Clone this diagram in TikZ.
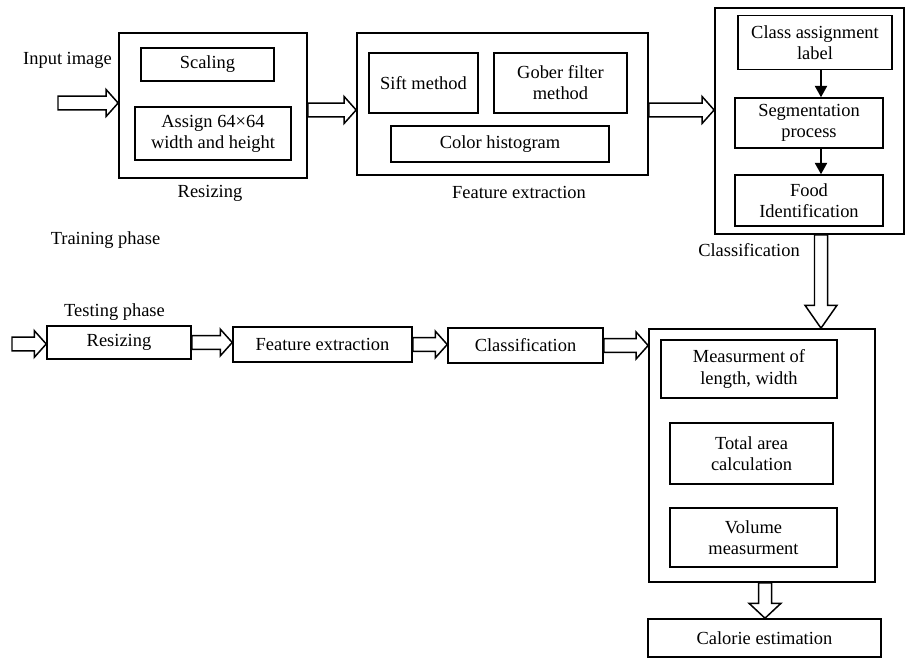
\documentclass[tikz,border=0pt]{standalone}
\usepackage{fontspec}
\setmainfont{Liberation Serif}
\usetikzlibrary{arrows.meta,calc}
\newcommand{\arrshaft}{3.9pt}
\newcommand{\arrhead}{7.6pt}
\newcommand{\arrlen}{6.8pt}
\newcommand{\fatright}[2]{%
  \draw[fat] let \p1=(#1), \p2=(#2) in
    (\x1,\y1+\arrshaft) -- (\x2-\arrlen,\y1+\arrshaft) -- (\x2-\arrlen,\y1+\arrhead)
    -- (\x2,\y1) -- (\x2-\arrlen,\y1-\arrhead) -- (\x2-\arrlen,\y1-\arrshaft)
    -- (\x1,\y1-\arrshaft) -- cycle;}
\newcommand{\fatdown}[3][8.5pt]{%
  \draw[fat] let \p1=(#2), \p2=(#3) in
    (\x1-3.7pt,\y1) -- (\x1-3.7pt,\y2+#1) -- (\x1-9.1pt,\y2+#1) -- (\x1,\y2)
    -- (\x1+9.1pt,\y2+#1) -- (\x1+3.7pt,\y2+#1) -- (\x1+3.7pt,\y1) -- cycle;}

\begin{document}
\begin{tikzpicture}[x=0.02cm, y=-0.02cm,
    every node/.style={font=\fontsize{10.5}{12}\selectfont},
    box/.style={draw, line width=0.9pt, inner sep=0pt, align=center},
    outer/.style={draw, line width=1pt, inner sep=0pt},
    fat/.style={line width=0.85pt, line join=miter},
    tri/.style={line width=0.9pt, -{Triangle[length=6.5pt,width=7pt]}}]
  \useasboundingbox (0,0) rectangle (907,658);

  % training phase
  \node (inlbl) at (67.5,60) {Input image};
  \coordinate (in1) at (58,103);
  \node[outer, minimum width=3.76cm, minimum height=2.90cm] (rs) at (213,105.5) {};
  \node[box, minimum width=2.66cm, minimum height=0.66cm] (scaling) at (207.5,64.5) {Scaling};
  \node[box, minimum width=3.12cm, minimum height=1.06cm] (assign) at (213,133.5) {Assign 64×64\\width and height};
  \node (rslbl) at (210,193) {Resizing};

  \node[outer, minimum width=5.82cm, minimum height=2.84cm] (fe) at (502.5,104) {};
  \node[box, minimum width=2.18cm, minimum height=1.20cm] (sift) at (423.5,83) {Sift method};
  \node[box, minimum width=2.66cm, minimum height=1.20cm] (gober) at (560.5,83) {Gober filter\\method};
  \node[box, minimum width=4.36cm, minimum height=0.72cm] (color) at (500,144) {Color histogram};
  \node (felbl) at (519,192) {Feature extraction};

  \node[outer, minimum width=3.78cm, minimum height=4.52cm] (cl) at (809.5,121) {};
  \node[box, minimum width=3.08cm, minimum height=1.08cm] (classassign) at (815,42.5) {Class assignment\\label};
  \node[box, minimum width=2.96cm, minimum height=1.00cm] (segment) at (809,123) {Segmentation\\process};
  \node[box, minimum width=2.96cm, minimum height=1.02cm] (food) at (809,200.5) {Food\\Identification};
  \node (cllbl) at (749,250) {Classification};

  \node (trainlbl) at (105.5,240) {Training phase};

  \fatright{in1}{rs.west}
  \fatright{[yshift=-0.09cm]rs.east}{fe.west}
  \fatright{[yshift=-0.12cm]fe.east}{cl.west}
  \draw[tri] ([xshift=0.12cm]classassign.south) coordinate (ca) -- (ca |- segment.north);
  \draw[tri] ([xshift=0.24cm]segment.south) coordinate (sg) -- (sg |- food.north);

  % testing phase
  \node (testlbl) at (114.5,312) {Testing phase};
  \coordinate (in2) at (12,344);
  \node[box, minimum width=2.88cm, minimum height=0.66cm] (tresize) at (119,342.5) {Resizing};
  \node[box, minimum width=3.58cm, minimum height=0.70cm] (tfeature) at (322.5,344.5) {Feature extraction};
  \node[box, minimum width=3.10cm, minimum height=0.70cm] (tclass) at (525.5,345.5) {Classification};

  \node[outer, minimum width=4.52cm, minimum height=5.06cm] (big) at (762,455.5) {};
  \node[box, minimum width=3.52cm, minimum height=1.16cm] (meas) at (749,369) {Measurment of\\length, width};
  \node[box, minimum width=3.26cm, minimum height=1.22cm] (total) at (751.5,453.5) {Total area\\calculation};
  \node[box, minimum width=3.34cm, minimum height=1.18cm] (volume) at (753.5,537.5) {Volume\\measurment};
  \node[box, minimum width=4.66cm, minimum height=0.76cm] (calorie) at (764.5,638) {Calorie estimation};

  \fatright{in2}{tresize.west}
  \fatright{tresize.east}{tfeature.west}
  \fatright{tfeature.east}{tclass.west}
  \fatright{tclass.east}{big.west}
  \fatdown[13pt]{[xshift=0.23cm]cl.south}{big.north}
  \fatdown{[xshift=0.06cm]big.south}{calorie.north}
\end{tikzpicture}
\end{document}
